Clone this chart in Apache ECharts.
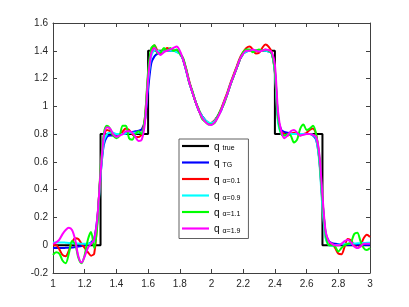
<!DOCTYPE html>
<html><head><meta charset="utf-8">
<script src="https://cdn.jsdelivr.net/npm/echarts@6/dist/echarts.min.js"></script>
<style>html,body{margin:0;padding:0;background:#fff}#c{width:409px;height:307px}</style>
</head><body><div id="c"></div>
<script>
// sample positions shared by the reconstructed curves
var xs = [1.00,1.02,1.04,1.06,1.08,1.10,1.12,1.14,1.16,1.18,1.20,1.22,1.24,1.26,1.28,1.30,1.32,1.34,1.36,1.38,
1.40,1.42,1.44,1.46,1.48,1.50,1.52,1.54,1.56,1.58,1.60,1.62,1.64,1.66,1.68,1.70,1.72,1.74,1.76,1.78,
1.80,1.82,1.84,1.86,1.88,1.90,1.92,1.94,1.96,1.98,2.00,2.02,2.04,2.06,2.08,2.10,2.12,2.14,2.16,2.18,
2.20,2.22,2.24,2.26,2.28,2.30,2.32,2.34,2.36,2.38,2.40,2.42,2.44,2.46,2.48,2.50,2.52,2.54,2.56,2.58,
2.60,2.62,2.64,2.66,2.68,2.70,2.72,2.74,2.76,2.78,2.80,2.82,2.84,2.86,2.88,2.90,2.92,2.94,2.96,2.98,3.00];

// true profile (breakpoints)
var xTrue = [1.0,1.3,1.3,1.6,1.6,1.78,1.80,1.82,1.84,1.86,1.88,1.90,1.92,1.94,1.96,1.98,2.00,2.02,2.04,2.06,2.08,2.10,2.12,2.14,2.16,2.18,2.20,2.22,2.4,2.4,2.7,2.7,3.0];
var yTrue = [0,0,0.8,0.8,1.4,1.4,1.39,1.34,1.26,1.17,1.10,1.03,0.97,0.93,0.90,0.88,0.875,0.895,0.93,0.97,1.03,1.09,1.16,1.22,1.28,1.34,1.38,1.40,1.40,0.8,0.8,0,0];

var yTG = [-0.02,-0.02,-0.02,-0.02,-0.019,-0.018,-0.016,-0.013,-0.01,-0.006,0.0,0.008,0.02,0.05,0.2,0.5,0.72,0.78,0.79,0.79,
0.795,0.80,0.80,0.805,0.81,0.815,0.82,0.825,0.835,0.90,1.12,1.31,1.36,1.38,1.39,1.40,1.40,1.40,1.40,1.395,
1.38,1.34,1.26,1.17,1.10,1.03,0.97,0.93,0.90,0.88,0.875,0.895,0.93,0.97,1.03,1.09,1.16,1.22,1.28,1.34,
1.38,1.395,1.40,1.40,1.40,1.40,1.40,1.40,1.395,1.38,1.25,0.92,0.83,0.815,0.81,0.805,0.80,0.80,0.80,0.80,
0.80,0.80,0.79,0.76,0.62,0.32,0.09,0.03,0.015,0.01,0.008,0.006,0.005,0.004,0.004,0.003,0.003,0.002,0.002,0.001,0.001];

var yA01 = [0.0,0.0,-0.03,-0.07,-0.08,-0.04,0.02,0.05,0.045,0.01,-0.02,-0.05,-0.075,-0.06,0.18,0.52,0.76,0.83,0.82,0.79,
0.78,0.79,0.82,0.84,0.83,0.80,0.78,0.78,0.80,0.92,1.22,1.40,1.44,1.40,1.38,1.40,1.42,1.41,1.40,1.40,
1.38,1.34,1.27,1.18,1.10,1.03,0.97,0.92,0.89,0.875,0.88,0.90,0.93,0.98,1.04,1.10,1.17,1.23,1.29,1.35,
1.39,1.42,1.43,1.41,1.38,1.385,1.42,1.445,1.43,1.39,1.24,0.90,0.82,0.80,0.79,0.80,0.81,0.80,0.79,0.80,
0.81,0.83,0.84,0.80,0.62,0.30,0.06,0.01,0.01,-0.02,-0.06,-0.065,-0.01,0.045,0.035,0.0,-0.02,0.0,0.05,0.075,0.06];

var yA09 = [0.02,0.02,0.02,0.02,0.018,0.016,0.015,0.014,0.012,0.011,0.01,0.011,0.015,0.03,0.17,0.50,0.74,0.80,0.81,0.81,
0.80,0.80,0.80,0.805,0.81,0.81,0.81,0.81,0.81,0.90,1.18,1.36,1.40,1.40,1.395,1.395,1.40,1.40,1.40,1.39,
1.38,1.34,1.26,1.17,1.10,1.03,0.97,0.93,0.90,0.885,0.88,0.895,0.93,0.97,1.03,1.09,1.16,1.22,1.28,1.34,
1.38,1.395,1.40,1.40,1.40,1.40,1.40,1.40,1.395,1.38,1.24,0.88,0.80,0.79,0.795,0.80,0.80,0.80,0.80,0.80,
0.80,0.80,0.795,0.77,0.60,0.27,0.05,0.0,-0.005,0.0,0.005,0.01,0.01,0.01,0.012,0.012,0.014,0.015,0.016,0.017,0.018];

var yA11 = [-0.07,-0.05,-0.06,-0.11,-0.13,-0.06,0.03,0.01,-0.09,-0.13,-0.07,0.04,0.095,-0.02,0.15,0.55,0.80,0.86,0.84,0.79,
0.77,0.79,0.86,0.86,0.77,0.76,0.80,0.82,0.80,0.92,1.25,1.42,1.44,1.38,1.39,1.42,1.40,1.42,1.40,1.41,
1.38,1.35,1.27,1.17,1.11,1.03,0.98,0.91,0.89,0.87,0.87,0.88,0.93,0.98,1.02,1.09,1.16,1.22,1.28,1.34,
1.39,1.41,1.41,1.39,1.40,1.41,1.40,1.41,1.40,1.38,1.26,0.92,0.80,0.79,0.80,0.79,0.74,0.76,0.84,0.87,
0.83,0.84,0.86,0.80,0.64,0.33,0.08,0.0,0.0,-0.01,-0.045,-0.02,0.0,0.01,0.02,0.08,0.09,0.03,-0.02,-0.035,-0.02];

var yA19 = [0.01,0.02,0.04,0.08,0.11,0.125,0.11,0.04,-0.08,-0.125,-0.08,-0.02,0.01,0.04,0.2,0.52,0.78,0.85,0.84,0.80,
0.78,0.79,0.80,0.82,0.82,0.81,0.78,0.75,0.76,0.88,1.20,1.38,1.42,1.39,1.37,1.39,1.40,1.41,1.42,1.43,
1.40,1.34,1.26,1.17,1.10,1.03,0.97,0.92,0.89,0.87,0.865,0.885,0.92,0.97,1.03,1.09,1.16,1.22,1.28,1.34,
1.38,1.40,1.40,1.41,1.40,1.395,1.40,1.41,1.405,1.39,1.30,0.96,0.82,0.77,0.79,0.82,0.83,0.81,0.79,0.795,
0.80,0.80,0.795,0.78,0.66,0.36,0.10,0.03,0.01,0.0,0.0,0.01,0.03,0.04,0.02,-0.01,-0.02,-0.01,0.01,0.01,0.01];

var names = ['true','TG','\u03b1=0.1','\u03b1=0.9','\u03b1=1.1','\u03b1=1.9'];
var colors = ['#000000','#0000ff','#ff0000','#00ffff','#00ff00','#ff00ff'];
var xTicks = [1,1.2,1.4,1.6,1.8,2,2.2,2.4,2.6,2.8,3];
var yTicks = [-0.2,0,0.2,0.4,0.6,0.8,1,1.2,1.4,1.6];

function pairs(xArr, yArr){ return xArr.map(function(x,i){ return [x, yArr[i]]; }); }
var ySets = [null, yTG, yA01, yA09, yA11, yA19];

var series = names.map(function(n, k){
  return {
    name: n, type: 'line', symbol: 'none', smooth: k === 0 ? false : 0.3,
    data: k === 0 ? pairs(xTrue, yTrue) : pairs(xs, ySets[k]),
    lineStyle: {color: colors[k], width: 2}, itemStyle: {color: colors[k]},
    z: 2 + k, animation: false
  };
});

var fmt = function(v){ return String(parseFloat(Number(v).toFixed(1))); };
var axCol = '#404040';
var font = 'Liberation Sans, Arial, Helvetica, sans-serif';
var lineIcon = 'path://M0,0L100,0L100,8L0,8Z';

var chart = echarts.init(document.getElementById('c'), null, {renderer: 'canvas'});
chart.setOption({
  animation: false,
  backgroundColor: '#fff',
  grid: {left: 53, right: 39, top: 23, bottom: 34, containLabel: false},
  xAxis: [
    {type: 'value', min: xTicks[0], max: xTicks[xTicks.length-1], interval: 0.2,
     axisLine: {show: true, onZero: false, lineStyle: {color: axCol, width: 1}},
     axisTick: {show: true, inside: true, length: 4, lineStyle: {color: axCol}},
     axisLabel: {color: '#262626', fontSize: 10, fontFamily: font, margin: 6, formatter: fmt},
     splitLine: {show: false}},
    {type: 'value', position: 'top', min: xTicks[0], max: xTicks[xTicks.length-1], interval: 0.2,
     axisLine: {show: true, onZero: false, lineStyle: {color: axCol, width: 1}},
     axisTick: {show: true, inside: true, length: 4, lineStyle: {color: axCol}},
     axisLabel: {show: false}, splitLine: {show: false}}
  ],
  yAxis: [
    {type: 'value', min: yTicks[0], max: yTicks[yTicks.length-1], interval: 0.2,
     axisLine: {show: true, onZero: false, lineStyle: {color: axCol, width: 1}},
     axisTick: {show: true, inside: true, length: 4, lineStyle: {color: axCol}},
     axisLabel: {color: '#262626', fontSize: 10, fontFamily: font, margin: 5, formatter: fmt},
     splitLine: {show: false}},
    {type: 'value', position: 'right', min: yTicks[0], max: yTicks[yTicks.length-1], interval: 0.2,
     axisLine: {show: true, onZero: false, lineStyle: {color: axCol, width: 1}},
     axisTick: {show: true, inside: true, length: 4, lineStyle: {color: axCol}},
     axisLabel: {show: false}, splitLine: {show: false}}
  ],
  legend: {
    orient: 'vertical', left: 179, top: 139,
    backgroundColor: '#fff', borderColor: '#606060', borderWidth: 1, borderRadius: 0,
    padding: [1, 8, 4, 3], itemGap: 4.5, itemWidth: 27, itemHeight: 12,
    data: names.map(function(n){ return {name: n, icon: lineIcon}; }),
    formatter: function(n){ return '{q|q}{s|' + n + '}'; },
    textStyle: {
      fontFamily: font,
      rich: {
        q: {fontSize: 10, color: '#000', fontFamily: font, verticalAlign: 'bottom', lineHeight: 12},
        s: {fontSize: 7, color: '#000', fontFamily: font, padding: [5, 0, 0, 3], verticalAlign: 'bottom', lineHeight: 8}
      }
    }
  },
  series: series
});
</script>
</body></html>
